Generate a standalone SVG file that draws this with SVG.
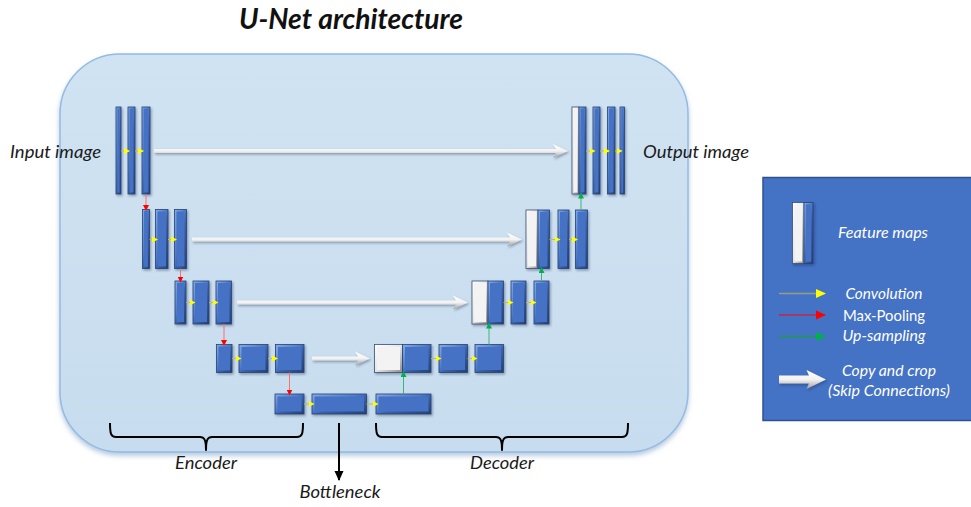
<svg xmlns="http://www.w3.org/2000/svg" width="971" height="507" viewBox="0 0 971 507">
  <defs>
    <style>
      text { font-family: Lato, "Liberation Sans", "DejaVu Sans", sans-serif; }
      .title { font-size: 29px; font-weight: bold; font-style: italic; fill: #111; }
      .lbl { font-size: 17.5px; font-style: italic; fill: #1a1a1a; }
      .leg { font-size: 16px; font-style: italic; fill: #ffffff; text-anchor: middle; }
      .legn { font-size: 16px; fill: #ffffff; text-anchor: middle; }
      .bo { fill: url(#blueRim); stroke: #27426f; stroke-width: 0.8; }
      .bi { fill: #4472c4; }
      .wo { fill: url(#whiteRim); stroke: #3a4f73; stroke-width: 0.8; }
      .wi { fill: #f3f3f3; }
      .cv { stroke: #b7bb6a; stroke-width: 1; fill: none; }
      .mp { stroke: #ff6f6f; stroke-width: 1; fill: none; }
      .us { stroke: #3cb57c; stroke-width: 1; fill: none; }
      .br { stroke: #000; stroke-width: 2; fill: none; stroke-linejoin: round; }
      .skip { fill: url(#skipFill); }
    </style>
    <linearGradient id="panelFill" x1="0" y1="0" x2="0" y2="1">
      <stop offset="0" stop-color="#d0e3f2"/>
      <stop offset="1" stop-color="#c7dcee"/>
    </linearGradient>
    <linearGradient id="blueRim" x1="0" y1="0" x2="1" y2="1">
      <stop offset="0" stop-color="#86abe6"/>
      <stop offset="0.45" stop-color="#4d7ac8"/>
      <stop offset="0.55" stop-color="#3a63ad"/>
      <stop offset="1" stop-color="#223f74"/>
    </linearGradient>
    <linearGradient id="whiteRim" x1="0" y1="0" x2="1" y2="1">
      <stop offset="0" stop-color="#ffffff"/>
      <stop offset="0.5" stop-color="#e6e6e6"/>
      <stop offset="1" stop-color="#8c8c8c"/>
    </linearGradient>
    <linearGradient id="skipFill" x1="0" y1="0" x2="0" y2="1">
      <stop offset="0" stop-color="#ffffff"/>
      <stop offset="0.5" stop-color="#f2f2f2"/>
      <stop offset="1" stop-color="#9d9d9d"/>
    </linearGradient>
    <filter id="shadow" x="-20%" y="-20%" width="140%" height="140%">
      <feDropShadow dx="1.2" dy="1.5" stdDeviation="0.9" flood-color="#1c2c48" flood-opacity="0.4"/>
    </filter>
    <filter id="panelShadow" x="-5%" y="-5%" width="110%" height="112%">
      <feDropShadow dx="0" dy="3" stdDeviation="2.5" flood-color="#5a86b8" flood-opacity="0.45"/>
    </filter>
    <marker id="mYel" markerUnits="userSpaceOnUse" markerWidth="6" markerHeight="6" refX="5" refY="3" orient="auto">
      <path d="M0,0 L6,3 L0,6 z" fill="#ffff00"/>
    </marker>
    <marker id="mRed" markerUnits="userSpaceOnUse" markerWidth="6" markerHeight="6" refX="5" refY="3" orient="auto">
      <path d="M0,0 L6,3 L0,6 z" fill="#ff0000"/>
    </marker>
    <marker id="mGrn" markerUnits="userSpaceOnUse" markerWidth="6" markerHeight="6" refX="5" refY="3" orient="auto">
      <path d="M0,0 L6,3 L0,6 z" fill="#00b050"/>
    </marker>
    <marker id="mYelL" markerUnits="userSpaceOnUse" markerWidth="10" markerHeight="10" refX="9" refY="5" orient="auto">
      <path d="M0,0.5 L10,5 L0,9.5 z" fill="#ffff00"/>
    </marker>
    <marker id="mRedL" markerUnits="userSpaceOnUse" markerWidth="10" markerHeight="10" refX="9" refY="5" orient="auto">
      <path d="M0,0.5 L10,5 L0,9.5 z" fill="#ff0000"/>
    </marker>
    <marker id="mGrnL" markerUnits="userSpaceOnUse" markerWidth="10" markerHeight="10" refX="9" refY="5" orient="auto">
      <path d="M0,0.5 L10,5 L0,9.5 z" fill="#00b050"/>
    </marker>
    <marker id="mBlk" markerUnits="userSpaceOnUse" markerWidth="10" markerHeight="10" refX="9" refY="5" orient="auto">
      <path d="M0,0.5 L10,5 L0,9.5 z" fill="#000"/>
    </marker>
  </defs>

  <!-- title -->
  <text class="title" x="351" y="29" text-anchor="middle" textLength="224" lengthAdjust="spacingAndGlyphs">U-Net architecture</text>

  <!-- network panel -->
  <rect id="panel" x="60" y="54" width="628" height="398" rx="60" ry="60" fill="url(#panelFill)" stroke="#93bbe3" stroke-width="1.5" filter="url(#panelShadow)"/>

  <!-- side labels -->
  <text class="lbl" x="10" y="158" textLength="91" lengthAdjust="spacingAndGlyphs">Input image</text>
  <text class="lbl" x="643" y="158" textLength="106" lengthAdjust="spacingAndGlyphs">Output image</text>

  <!-- skip connections (copy and crop) -->
  <g id="skips" filter="url(#shadow)">
    <path class="skip" d="M154,149 L556,149 L553,144 L568,151 L553,158 L556,153 L154,153 z"/>
    <path class="skip" d="M192,237.5 L510,237.5 L507,232.5 L522,239.5 L507,246.5 L510,241.5 L192,241.5 z"/>
    <path class="skip" d="M237,300.5 L456,300.5 L453,295.5 L468,302.5 L453,309.5 L456,304.5 L237,304.5 z"/>
    <path class="skip" d="M312,356.5 L358,356.5 L355,351.5 L370,358.5 L355,365.5 L358,360.5 L312,360.5 z"/>
  </g>

  <!-- feature maps -->
  <g id="nodes" filter="url(#shadow)">
    <g id="enc1">
      <rect class="bo" x="116" y="107" width="5" height="87"/><rect class="bi" x="117.5" y="108.5" width="2" height="84"/>
      <rect class="bo" x="128" y="107" width="7" height="87"/><rect class="bi" x="129.6" y="108.6" width="3.8" height="83.8"/>
      <rect class="bo" x="142" y="107" width="8" height="87"/><rect class="bi" x="143.6" y="108.6" width="4.8" height="83.8"/>
    </g>
    <g id="enc2">
      <rect class="bo" x="142.5" y="209.5" width="7" height="59"/><rect class="bi" x="144.1" y="211.1" width="3.8" height="55.8"/>
      <rect class="bo" x="155.5" y="209.5" width="12.5" height="59"/><rect class="bi" x="157.5" y="211.5" width="8.5" height="55"/>
      <rect class="bo" x="174.5" y="209.5" width="12" height="59"/><rect class="bi" x="176.5" y="211.5" width="8" height="55"/>
    </g>
    <g id="enc3">
      <rect class="bo" x="175" y="281" width="11" height="43"/><rect class="bi" x="177" y="283" width="7" height="39"/>
      <rect class="bo" x="193" y="281" width="16" height="43"/><rect class="bi" x="195" y="283" width="12" height="39"/>
      <rect class="bo" x="216" y="281" width="15.5" height="43"/><rect class="bi" x="218" y="283" width="11.5" height="39"/>
    </g>
    <g id="enc4">
      <rect class="bo" x="216.5" y="344.5" width="15.5" height="28"/><rect class="bi" x="218.5" y="346.5" width="11.5" height="24"/>
      <rect class="bo" x="239" y="344.5" width="29" height="28"/><rect class="bi" x="241.5" y="347" width="24" height="23"/>
      <rect class="bo" x="275.5" y="344.5" width="28.5" height="28"/><rect class="bi" x="278" y="347" width="23.5" height="23"/>
    </g>
    <g id="bottleneck">
      <rect class="bo" x="275" y="394" width="29" height="20"/><rect class="bi" x="277.5" y="396.5" width="24" height="15"/>
      <rect class="bo" x="312" y="394" width="54.5" height="20"/><rect class="bi" x="314.5" y="396.5" width="49.5" height="15"/>
      <rect class="bo" x="376" y="394" width="55" height="20"/><rect class="bi" x="378.5" y="396.5" width="50" height="15"/>
    </g>
    <g id="dec4">
      <rect class="wo" x="374.5" y="344.5" width="28" height="28"/><rect class="wi" x="377" y="347" width="23" height="23"/>
      <rect class="bo" x="402.5" y="344.5" width="28.5" height="28"/><rect class="bi" x="405" y="347" width="23.5" height="23"/>
      <rect class="bo" x="439" y="344.5" width="28.5" height="28"/><rect class="bi" x="441.5" y="347" width="23.5" height="23"/>
      <rect class="bo" x="475" y="344.5" width="28.5" height="28"/><rect class="bi" x="477.5" y="347" width="23.5" height="23"/>
    </g>
    <g id="dec3">
      <rect class="wo" x="472" y="281" width="16" height="43"/><rect class="wi" x="474" y="283" width="12" height="39"/>
      <rect class="bo" x="488" y="281" width="15.5" height="43"/><rect class="bi" x="490" y="283" width="11.5" height="39"/>
      <rect class="bo" x="511" y="281" width="15" height="43"/><rect class="bi" x="513" y="283" width="11" height="39"/>
      <rect class="bo" x="534" y="281" width="15" height="43"/><rect class="bi" x="536" y="283" width="11" height="39"/>
    </g>
    <g id="dec2">
      <rect class="wo" x="526" y="210" width="12" height="58.5"/><rect class="wi" x="528" y="212" width="8" height="54.5"/>
      <rect class="bo" x="538" y="210" width="11.5" height="58.5"/><rect class="bi" x="540" y="212" width="7.5" height="54.5"/>
      <rect class="bo" x="558" y="210" width="11" height="58.5"/><rect class="bi" x="560" y="212" width="7" height="54.5"/>
      <rect class="bo" x="575.5" y="210" width="12" height="58.5"/><rect class="bi" x="577.5" y="212" width="8" height="54.5"/>
    </g>
    <g id="dec1">
      <rect class="wo" x="572" y="107" width="7" height="87"/><rect class="wi" x="573.6" y="108.6" width="3.8" height="83.8"/>
      <rect class="bo" x="579" y="107" width="7" height="87"/><rect class="bi" x="580.6" y="108.6" width="3.8" height="83.8"/>
      <rect class="bo" x="593" y="107" width="7" height="87"/><rect class="bi" x="594.6" y="108.6" width="3.8" height="83.8"/>
      <rect class="bo" x="607.5" y="107" width="7.5" height="87"/><rect class="bi" x="609.1" y="108.6" width="4.3" height="83.8"/>
      <rect class="bo" x="620" y="107" width="4.5" height="87"/><rect class="bi" x="621.4" y="108.4" width="1.7" height="84.2"/>
    </g>
  </g>

  <!-- operations between feature maps -->
  <g id="connectors">
    <!-- convolutions -->
    <line class="cv" x1="121" y1="151" x2="129" y2="151" marker-end="url(#mYel)"/>
    <line class="cv" x1="135" y1="151" x2="143" y2="151" marker-end="url(#mYel)"/>
    <line class="cv" x1="149.5" y1="239.5" x2="157" y2="239.5" marker-end="url(#mYel)"/>
    <line class="cv" x1="168" y1="239.5" x2="176" y2="239.5" marker-end="url(#mYel)"/>
    <line class="cv" x1="186" y1="302.5" x2="194.5" y2="302.5" marker-end="url(#mYel)"/>
    <line class="cv" x1="209" y1="302.5" x2="217.5" y2="302.5" marker-end="url(#mYel)"/>
    <line class="cv" x1="232" y1="358.5" x2="240.5" y2="358.5" marker-end="url(#mYel)"/>
    <line class="cv" x1="268" y1="358.5" x2="277" y2="358.5" marker-end="url(#mYel)"/>
    <line class="cv" x1="304" y1="404" x2="313.5" y2="404" marker-end="url(#mYel)"/>
    <line class="cv" x1="366.5" y1="404" x2="377.5" y2="404" marker-end="url(#mYel)"/>
    <line class="cv" x1="431" y1="358.5" x2="440.5" y2="358.5" marker-end="url(#mYel)"/>
    <line class="cv" x1="467.5" y1="358.5" x2="476.5" y2="358.5" marker-end="url(#mYel)"/>
    <line class="cv" x1="503.5" y1="302.5" x2="512.5" y2="302.5" marker-end="url(#mYel)"/>
    <line class="cv" x1="526" y1="302.5" x2="535.5" y2="302.5" marker-end="url(#mYel)"/>
    <line class="cv" x1="549.5" y1="239.5" x2="559.5" y2="239.5" marker-end="url(#mYel)"/>
    <line class="cv" x1="569" y1="239.5" x2="577" y2="239.5" marker-end="url(#mYel)"/>
    <line class="cv" x1="586" y1="151" x2="594.5" y2="151" marker-end="url(#mYel)"/>
    <line class="cv" x1="600" y1="151" x2="609" y2="151" marker-end="url(#mYel)"/>
    <line class="cv" x1="615" y1="151" x2="621.5" y2="151" marker-end="url(#mYel)"/>
    <!-- max-pooling -->
    <line class="mp" x1="146" y1="194" x2="146" y2="210" marker-end="url(#mRed)"/>
    <line class="mp" x1="180.5" y1="268.5" x2="180.5" y2="281.5" marker-end="url(#mRed)"/>
    <line class="mp" x1="224" y1="324" x2="224" y2="345" marker-end="url(#mRed)"/>
    <line class="mp" x1="289.5" y1="372.5" x2="289.5" y2="394.5" marker-end="url(#mRed)"/>
    <!-- up-sampling -->
    <line class="us" x1="403.5" y1="394" x2="403.5" y2="372" marker-end="url(#mGrn)"/>
    <line class="us" x1="489" y1="344.5" x2="489" y2="323.5" marker-end="url(#mGrn)"/>
    <line class="us" x1="541.5" y1="281" x2="541.5" y2="268" marker-end="url(#mGrn)"/>
    <line class="us" x1="581" y1="210" x2="581" y2="193.5" marker-end="url(#mGrn)"/>
  </g>

  <!-- encoder / decoder braces and bottleneck pointer -->
  <g id="braces">
    <path class="br" d="M110,423 C110,434 111,437 116,437 L200,437 C204,437 206,439 206,450 C206,439 208,437 212,437 L297,437 C302,437 303,434 303,423"/>
    <path class="br" d="M376,423 C376,434 377,437 382,437 L496,437 C500,437 502,439 502,450 C502,439 504,437 508,437 L622,437 C627,437 628,434 628,423"/>
    <line x1="339" y1="423" x2="339" y2="480" stroke="#000" stroke-width="2" marker-end="url(#mBlk)"/>
  </g>
  <text class="lbl" x="206" y="469" text-anchor="middle" textLength="62" lengthAdjust="spacingAndGlyphs">Encoder</text>
  <text class="lbl" x="502" y="469" text-anchor="middle" textLength="64" lengthAdjust="spacingAndGlyphs">Decoder</text>
  <text class="lbl" x="340" y="498" text-anchor="middle" textLength="81" lengthAdjust="spacingAndGlyphs">Bottleneck</text>

  <!-- legend -->
  <g id="legend">
    <rect x="763" y="177.5" width="212" height="243" fill="#4472c4" stroke="#2f528f" stroke-width="1.5"/>
    <g id="legend-fmap" filter="url(#shadow)">
      <rect class="wo" x="792.5" y="202.5" width="11.5" height="61"/><rect class="wi" x="794.5" y="204.5" width="7.5" height="57"/>
      <rect class="bo" x="804" y="202.5" width="9" height="61"/><rect class="bi" x="805.8" y="204.3" width="5.4" height="57.4"/>
    </g>
    <text class="leg" x="883" y="238" textLength="90" lengthAdjust="spacingAndGlyphs">Feature maps</text>
    <line x1="779" y1="293.5" x2="825" y2="293.5" stroke="#93a07a" stroke-width="1.5" marker-end="url(#mYelL)"/>
    <text class="leg" x="884" y="298.5" textLength="77" lengthAdjust="spacingAndGlyphs">Convolution</text>
    <line x1="779" y1="315" x2="825" y2="315" stroke="#c0284a" stroke-width="1.5" marker-end="url(#mRedL)"/>
    <text class="legn" x="884" y="320.5" textLength="82" lengthAdjust="spacingAndGlyphs">Max-Pooling</text>
    <line x1="779" y1="336.5" x2="825" y2="336.5" stroke="#1c9a4e" stroke-width="1.5" marker-end="url(#mGrnL)"/>
    <text class="leg" x="884" y="341" textLength="83" lengthAdjust="spacingAndGlyphs">Up-sampling</text>
    <path class="skip" filter="url(#shadow)" d="M779,375.5 L809,375.5 L806.5,370 L826,379.5 L806.5,389 L809,383.5 L779,383.5 z"/>
    <text class="leg" x="889" y="375.5" textLength="94" lengthAdjust="spacingAndGlyphs">Copy and crop</text>
    <text class="leg" x="889" y="395.5" textLength="122" lengthAdjust="spacingAndGlyphs">(Skip Connections)</text>
  </g>
</svg>
